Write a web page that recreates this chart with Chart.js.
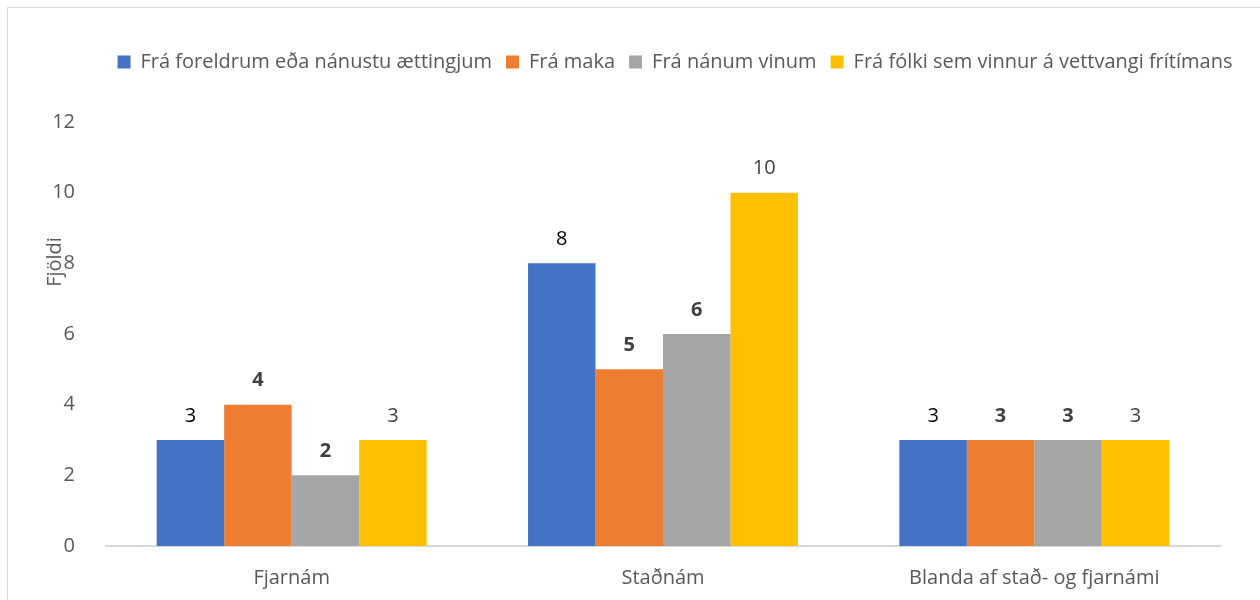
<!DOCTYPE html>
<html>
<head>
<meta charset="utf-8">
<script src="https://cdn.jsdelivr.net/npm/chart.js@4.4.1/dist/chart.umd.min.js"></script>
<style>
  html, body { margin:0; padding:0; background:#fff; overflow:hidden; }
  #wrap { position:relative; width:1260px; height:600px; }
  #frame { position:absolute; left:7px; top:7px; width:1300px; height:700px; border:1px solid #d9d9d9; box-sizing:border-box; }
  canvas { position:absolute; left:0; top:0; }
</style>
</head>
<body>
<div id="wrap">
  <div id="frame"></div>
  <canvas id="chart" width="1260" height="600"></canvas>
</div>
<script>
// ── Data ─────────────────────────────────────────────
const categories = ['Fjarnám', 'Staðnám', 'Blanda af stað- og fjarnámi'];
const seriesNames = [
    'Frá foreldrum eða nánustu ættingjum',
    'Frá maka',
    'Frá nánum vinum',
    'Frá fólki sem vinnur á vettvangi frítímans'
];
const foreldrar = [3, 8, 3];
const maki      = [4, 5, 3];
const vinir     = [2, 6, 3];
const fritimi   = [3, 10, 3];
const yTicks    = [0, 2, 4, 6, 8, 10, 12];

const COLORS = ['#4472C4', '#ED7D31', '#A5A5A5', '#FFC000'];
const LABEL_STYLE = [
    { color:'#000000', weight:'normal' },
    { color:'#404040', weight:'bold' },
    { color:'#404040', weight:'bold' },
    { color:'#404040', weight:'normal' }
];
const FONT = '"Open Sans"';
const FS = 20;

// ── Plugins ──────────────────────────────────────────
const valueLabels = {
    id: 'valueLabels',
    afterDatasetsDraw(chart) {
        const ctx = chart.ctx;
        chart.data.datasets.forEach((ds, di) => {
            const meta = chart.getDatasetMeta(di);
            const st = LABEL_STYLE[di];
            ctx.save();
            ctx.font = `${st.weight} ${FS}px ${FONT}`;
            ctx.fillStyle = st.color;
            ctx.textAlign = 'center';
            ctx.textBaseline = 'middle';
            meta.data.forEach((bar, i) => {
                ctx.fillText(String(ds.data[i]), bar.x, bar.y - 24);
            });
            ctx.restore();
        });
    }
};

const axisTitle = {
    id: 'axisTitle',
    afterDraw(chart) {
        const ctx = chart.ctx;
        ctx.save();
        ctx.translate(55, 262);
        ctx.rotate(-Math.PI / 2);
        ctx.font = `${FS}px ${FONT}`;
        ctx.fillStyle = '#595959';
        ctx.textAlign = 'center';
        ctx.textBaseline = 'middle';
        ctx.fillText('Fjöldi', 0, 0);
        ctx.restore();
    }
};

// legend sits a bit right of centre in the original
const legendPlace = {
    id: 'legendPlace',
    beforeInit(chart) {
        const orig = chart.legend.fit;
        chart.legend.fit = function() {
            orig.bind(chart.legend)();
            this.height = 122 - 38;
        };
    },
    afterLayout(chart) {
        chart.legend.left += 65;
        chart.legend.right += 65;
    }
};

// ── Chart ────────────────────────────────────────────
new Chart(document.getElementById('chart'), {
    type: 'bar',
    data: {
        labels: categories,
        datasets: [foreldrar, maki, vinir, fritimi].map((d, i) => ({
            label: seriesNames[i],
            data: d,
            backgroundColor: COLORS[i],
            borderWidth: 0,
            categoryPercentage: 0.727,
            barPercentage: 1.0
        }))
    },
    options: {
        responsive: false,
        animation: false,
        layout: { padding: { left: 0, right: 40, top: 38, bottom: 0 } },
        plugins: {
            legend: {
                position: 'top',
                align: 'center',
                labels: {
                    boxWidth: 13, boxHeight: 13, padding: 14,
                    color: '#595959',
                    font: { family: FONT, size: FS }
                }
            },
            tooltip: { enabled: false }
        },
        scales: {
            x: {
                grid: { display: false },
                border: { color: '#d9d9d9', width: 2 },
                ticks: { color: '#595959', font: { family: FONT, size: FS }, padding: 12 },
                afterFit: s => { s.height = 54; }
            },
            y: {
                min: yTicks[0], max: yTicks[yTicks.length - 1],
                afterBuildTicks: s => { s.ticks = yTicks.map(v => ({ value: v })); },
                grid: { display: false },
                border: { display: false },
                ticks: { color: '#595959', font: { family: FONT, size: FS }, padding: 23 },
                afterFit: s => { s.width = 106; }
            }
        }
    },
    plugins: [valueLabels, axisTitle, legendPlace]
});
</script>
</body>
</html>
